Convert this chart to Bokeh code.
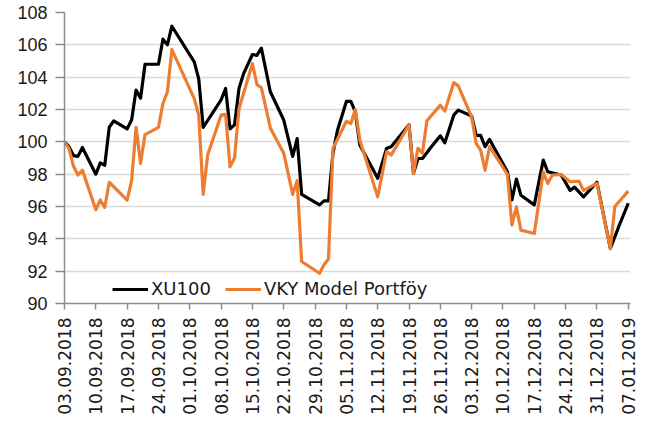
import math
import pandas as pd
from bokeh.plotting import figure
from bokeh.models import FixedTicker, DatetimeTickFormatter, Range1d
from bokeh.embed import file_html
from bokeh.resources import INLINE

# ---- data ----
xu100_dates = [
    "2018-09-03", "2018-09-04", "2018-09-05", "2018-09-06", "2018-09-07", "2018-09-10",
    "2018-09-11", "2018-09-12", "2018-09-13", "2018-09-14", "2018-09-17", "2018-09-18",
    "2018-09-19", "2018-09-20", "2018-09-21", "2018-09-24", "2018-09-25", "2018-09-26",
    "2018-09-27", "2018-10-02", "2018-10-03", "2018-10-04", "2018-10-08", "2018-10-09",
    "2018-10-10", "2018-10-11", "2018-10-12", "2018-10-13", "2018-10-15", "2018-10-16",
    "2018-10-17", "2018-10-19", "2018-10-22", "2018-10-24", "2018-10-25", "2018-10-26",
    "2018-10-30", "2018-10-31", "2018-11-01", "2018-11-02", "2018-11-03", "2018-11-05",
    "2018-11-06", "2018-11-07", "2018-11-08", "2018-11-12", "2018-11-14", "2018-11-15",
    "2018-11-19", "2018-11-20", "2018-11-21", "2018-11-22", "2018-11-24", "2018-11-26",
    "2018-11-27", "2018-11-29", "2018-11-30", "2018-12-03", "2018-12-04", "2018-12-05",
    "2018-12-06", "2018-12-07", "2018-12-11", "2018-12-12", "2018-12-13", "2018-12-14",
    "2018-12-17", "2018-12-19", "2018-12-20", "2018-12-23", "2018-12-25", "2018-12-26",
    "2018-12-28", "2018-12-31", "2019-01-03", "2019-01-05", "2019-01-07",
]
xu100_values = [
    100.0, 99.7, 99.15, 99.1, 99.65, 98.0,
    98.7, 98.55, 100.9, 101.3, 100.8, 101.35,
    103.2, 102.7, 104.8, 104.8, 106.35, 106.0,
    107.15, 104.95, 103.9, 100.9, 102.6, 103.3,
    100.8, 101.05, 103.3, 104.2, 105.4, 105.35,
    105.8, 103.1, 101.35, 99.1, 100.2, 96.75,
    96.1, 96.35, 96.35, 99.3, 100.7, 102.5,
    102.5, 101.85, 99.8, 97.75, 99.6, 99.7,
    101.05, 98.05, 98.97, 98.97, 99.7, 100.37,
    99.94, 101.65, 101.96, 101.6, 100.4, 100.4,
    99.7, 100.15, 98.15, 96.4, 97.7, 96.7,
    96.1, 98.87, 98.15, 97.95, 97.0, 97.2,
    96.6, 97.5, 93.4, 94.85, 96.2,
]

vky_dates = [
    "2018-09-03", "2018-09-04", "2018-09-05", "2018-09-06", "2018-09-07", "2018-09-10",
    "2018-09-11", "2018-09-12", "2018-09-13", "2018-09-17", "2018-09-18", "2018-09-19",
    "2018-09-20", "2018-09-21", "2018-09-24", "2018-09-25", "2018-09-26", "2018-09-27",
    "2018-10-02", "2018-10-03", "2018-10-04", "2018-10-05", "2018-10-08", "2018-10-09",
    "2018-10-10", "2018-10-11", "2018-10-12", "2018-10-15", "2018-10-16", "2018-10-17",
    "2018-10-19", "2018-10-22", "2018-10-24", "2018-10-25", "2018-10-26", "2018-10-30",
    "2018-10-31", "2018-11-01", "2018-11-02", "2018-11-05", "2018-11-06", "2018-11-07",
    "2018-11-08", "2018-11-12", "2018-11-14", "2018-11-15", "2018-11-19", "2018-11-20",
    "2018-11-21", "2018-11-22", "2018-11-23", "2018-11-26", "2018-11-27", "2018-11-29",
    "2018-11-30", "2018-12-03", "2018-12-04", "2018-12-05", "2018-12-06", "2018-12-07",
    "2018-12-11", "2018-12-12", "2018-12-13", "2018-12-14", "2018-12-17", "2018-12-19",
    "2018-12-20", "2018-12-21", "2018-12-23", "2018-12-25", "2018-12-27", "2018-12-28",
    "2018-12-31", "2019-01-03", "2019-01-04", "2019-01-07",
]
vky_values = [
    100.0, 99.6, 98.5, 97.95, 98.25, 95.8,
    96.4, 95.95, 97.5, 96.4, 97.6, 100.9,
    98.66, 100.45, 100.9, 102.37, 103.1, 105.7,
    102.67, 101.65, 96.75, 99.2, 101.65, 101.7,
    98.45, 99.0, 102.05, 104.84, 103.55, 103.35,
    100.86, 99.3, 96.75, 97.6, 92.6, 91.87,
    92.4, 92.75, 99.6, 101.27, 101.13, 102.0,
    100.1, 96.6, 99.4, 99.18, 101.05, 98.05,
    99.6, 99.3, 101.3, 102.27, 101.9, 103.66,
    103.46, 101.55, 99.9, 99.49, 98.25, 99.7,
    97.98, 94.85, 95.98, 94.54, 94.33, 98.15,
    97.42, 97.94, 97.98, 97.53, 97.57, 97.0,
    97.43, 93.4, 96.0, 96.95,
]

x_tick_dates = [
    "2018-09-03", "2018-09-10", "2018-09-17", "2018-09-24", "2018-10-01",
    "2018-10-08", "2018-10-15", "2018-10-22", "2018-10-29", "2018-11-05",
    "2018-11-12", "2018-11-19", "2018-11-26", "2018-12-03", "2018-12-10",
    "2018-12-17", "2018-12-24", "2018-12-31", "2019-01-07",
]
y_ticks = [90, 92, 94, 96, 98, 100, 102, 104, 106, 108]

series_names = ["XU100", "VKY Model Portföy"]
series_colors = ["#000000", "#ED7D31"]

# ---- build ----
xu_x = pd.to_datetime(xu100_dates)
vk_x = pd.to_datetime(vky_dates)
ticks_ms = [pd.Timestamp(d).value / 1e6 for d in x_tick_dates]

x_start = pd.Timestamp(x_tick_dates[0])
x_end = pd.Timestamp(x_tick_dates[-1]) + pd.Timedelta(hours=12)

p = figure(width=643, height=420, x_axis_type="datetime",
           output_backend="svg", toolbar_location=None,
           x_range=Range1d(x_start, x_end), y_range=Range1d(90, 108),
           min_border_left=64, min_border_right=13,
           min_border_top=12, min_border_bottom=117)
p.outline_line_color = None
p.background_fill_color = "white"
p.border_fill_color = "white"

p.line(xu_x, xu100_values, line_color=series_colors[0], line_width=3.2,
       line_join="round", legend_label=series_names[0])
p.line(vk_x, vky_values, line_color=series_colors[1], line_width=3.2,
       line_join="round", legend_label=series_names[1])

# axes
fmt = "%d.%m.%Y"
p.xaxis.ticker = FixedTicker(ticks=ticks_ms)
p.xaxis.formatter = DatetimeTickFormatter(
    microseconds=fmt, milliseconds=fmt, seconds=fmt, minsec=fmt, minutes=fmt,
    hourmin=fmt, hours=fmt, days=fmt, months=fmt, years=fmt)
p.xaxis.major_label_orientation = math.pi / 2
p.xaxis.major_label_text_font = "DejaVu Sans"
p.xaxis.major_label_text_font_size = "17px"
p.xaxis.major_label_text_color = "#1a1a1a"
p.xaxis.major_label_standoff = 8
p.xaxis.axis_line_color = "#8c8c8c"
p.xaxis.axis_line_width = 1.5
p.xaxis.major_tick_line_color = "#8c8c8c"
p.xaxis.major_tick_line_width = 1.5
p.xaxis.major_tick_out = 6
p.xaxis.major_tick_in = 0
p.xaxis.minor_tick_line_color = None

p.yaxis.ticker = FixedTicker(ticks=y_ticks)
p.yaxis.major_label_text_font = "Liberation Sans"
p.yaxis.major_label_text_font_size = "18px"
p.yaxis.major_label_text_color = "#1a1a1a"
p.yaxis.major_label_standoff = 8
p.yaxis.axis_line_color = "#8c8c8c"
p.yaxis.axis_line_width = 1.5
p.yaxis.major_tick_line_color = "#8c8c8c"
p.yaxis.major_tick_line_width = 1.5
p.yaxis.major_tick_out = 9
p.yaxis.major_tick_in = 0
p.yaxis.minor_tick_line_color = None

p.xgrid.visible = False
p.ygrid.grid_line_color = "#d9d9d9"
p.ygrid.grid_line_width = 1.5

# legend
lg = p.legend[0]
lg.orientation = "horizontal"
lg.location = (48, 4)
lg.margin = 0
lg.padding = 0
lg.spacing = 14
lg.glyph_width = 36
lg.label_standoff = 3
lg.label_text_font = "DejaVu Sans"
lg.label_text_font_size = "18px"
lg.label_text_color = "#1a1a1a"
lg.border_line_color = None
lg.background_fill_alpha = 0

open("out.html", "w").write(file_html(p, INLINE))
